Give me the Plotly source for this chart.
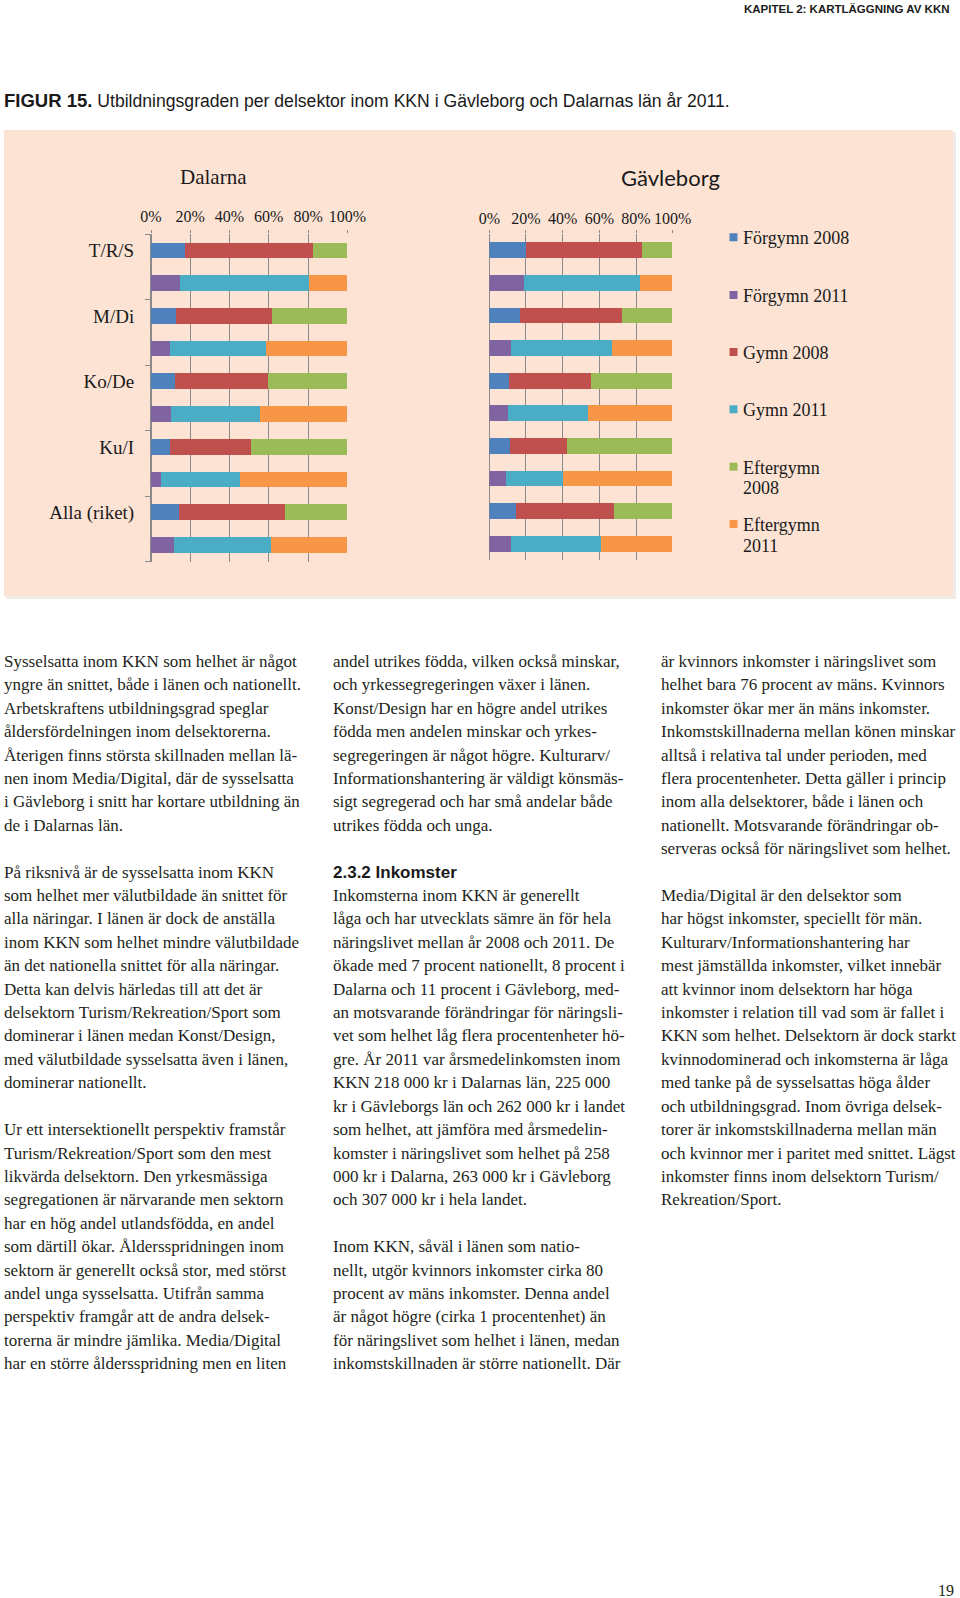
import plotly.graph_objects as go

W, H = 960, 1598

# ---------------- data ----------------
categories = ["T/R/S", "M/Di", "Ko/De", "Ku/I", "Alla (riket)"]
series_names = ["Förgymn 2008", "Förgymn 2011", "Gymn 2008", "Gymn 2011",
                "Eftergymn 2008", "Eftergymn 2011"]
series_colors = ["#4F81BD", "#8064A2", "#C0504D", "#4BACC6", "#9BBB59", "#F79646"]

dal_forgymn_2008 = [17.3, 12.6, 12.1, 9.7, 14.4]
dal_gymn_2008 = [65.4, 48.9, 47.5, 41.1, 53.9]
dal_eftergymn_2008 = [17.3, 38.5, 40.4, 49.2, 31.7]
dal_forgymn_2011 = [14.8, 9.8, 10.0, 5.3, 11.7]
dal_gymn_2011 = [65.9, 48.6, 45.7, 40.0, 49.4]
dal_eftergymn_2011 = [19.3, 41.6, 44.3, 54.7, 38.9]

gav_forgymn_2008 = [20.0, 17.1, 11.1, 11.3, 14.5]
gav_gymn_2008 = [63.6, 55.6, 44.4, 31.1, 53.9]
gav_eftergymn_2008 = [16.4, 27.3, 44.5, 57.6, 31.6]
gav_forgymn_2011 = [19.1, 12.0, 10.2, 9.1, 12.0]
gav_gymn_2011 = [63.1, 55.1, 43.6, 31.4, 49.1]
gav_eftergymn_2011 = [17.8, 32.9, 46.2, 59.5, 38.9]

x_ticks = [0, 20, 40, 60, 80, 100]
x_ticktext = [f"{v}%" for v in x_ticks]

# ---------------- helpers ----------------
def X(px):
    return px / W


def Y(py):
    return 1 - py / H


SERIF = "Liberation Serif, Times New Roman, serif"
SANS = "Liberation Sans, Arial, sans-serif"
TXT = "#231f20"

fig = go.Figure()

slots_2008 = [2 * i for i in range(len(categories))]
slots_2011 = [2 * i + 1 for i in range(len(categories))]

panels = [
    ("x", "y", [dal_forgymn_2008, dal_gymn_2008, dal_eftergymn_2008],
     [dal_forgymn_2011, dal_gymn_2011, dal_eftergymn_2011]),
    ("x2", "y2", [gav_forgymn_2008, gav_gymn_2008, gav_eftergymn_2008],
     [gav_forgymn_2011, gav_gymn_2011, gav_eftergymn_2011]),
]
for xa, ya, s2008, s2011 in panels:
    for k, vals in enumerate(s2008):
        idx = 2 * k
        fig.add_trace(go.Bar(x=vals, y=slots_2008, orientation="h", name=series_names[idx],
                             marker=dict(color=series_colors[idx], line=dict(width=0)),
                             width=0.48, xaxis=xa, yaxis=ya, showlegend=False))
    for k, vals in enumerate(s2011):
        idx = 2 * k + 1
        fig.add_trace(go.Bar(x=vals, y=slots_2011, orientation="h", name=series_names[idx],
                             marker=dict(color=series_colors[idx], line=dict(width=0)),
                             width=0.48, xaxis=xa, yaxis=ya, showlegend=False))

GRID = "#8a8a8a"
xaxis_common = dict(range=[0, 100], tickmode="array", tickvals=x_ticks, ticktext=x_ticktext,
                    side="top", automargin=False,
                    showgrid=True, gridcolor=GRID, gridwidth=1,
                    zeroline=True, zerolinecolor=GRID, zerolinewidth=1,
                    ticks="outside", ticklen=3, tickcolor=GRID,
                    tickfont=dict(family=SERIF, size=16, color="#1a1a1a"),
                    fixedrange=True)

n_slots = 2 * len(categories)
yaxis_common = dict(range=[n_slots - 0.5, -0.5], showgrid=False, zeroline=False,
                    automargin=False, fixedrange=True)

fig.update_layout(
    width=W, height=H, autosize=False, margin=dict(l=0, r=0, t=0, b=0, pad=0),
    paper_bgcolor="white", plot_bgcolor="rgba(0,0,0,0)",
    barmode="stack", bargap=0, showlegend=False,
    xaxis=dict(domain=[X(151), X(347.3)], anchor="y", ticklabelstandoff=2, **xaxis_common),
    yaxis=dict(domain=[Y(561.7), Y(234.3)], anchor="x",
               tickvals=slots_2008, ticktext=categories, ticks="",
               ticklabelstandoff=12,
               tickfont=dict(family=SERIF, size=19, color="#1a1a1a"),
               showline=True, linecolor=GRID, linewidth=1,
               minor=dict(tickvals=[i - 0.5 for i in range(0, n_slots + 1, 2)],
                          ticks="outside", ticklen=5, tickcolor=GRID, showgrid=False),
               **yaxis_common),
    xaxis2=dict(domain=[X(489.3), X(672.7)], anchor="y2", ticklabelstandoff=0, **xaxis_common),
    yaxis2=dict(domain=[Y(560), Y(234)], anchor="x2", showticklabels=False, ticks="",
                showline=False, **yaxis_common),
)

shapes = []
# panel shadow + panel
shapes.append(dict(type="rect", xref="paper", yref="paper", layer="below",
                   x0=X(6), x1=X(956), y0=Y(599), y1=Y(132),
                   fillcolor="#f1ebe7", line=dict(width=0)))
shapes.append(dict(type="rect", xref="paper", yref="paper", layer="below",
                   x0=X(4), x1=X(953), y0=Y(596), y1=Y(130),
                   fillcolor="#fde3d4", line=dict(width=0)))

annotations = []


def txt(x, y, text, size=17, family=SERIF, color=TXT, xanchor="left", yanchor="middle"):
    annotations.append(dict(x=X(x), y=Y(y), xref="paper", yref="paper", text=text,
                            showarrow=False, xanchor=xanchor, yanchor=yanchor,
                            borderpad=0, borderwidth=0,
                            font=dict(family=family, size=size, color=color)))


# header & caption
txt(950, 9, "<b>KAPITEL 2: KARTLÄGGNING AV KKN</b>", size=11.5,
    family="Liberation Sans Narrow, Liberation Sans, Arial, sans-serif",
    color="#1a1a1a", xanchor="right")
txt(4, 101, "<b><span style='font-size:18.5px'>FIGUR 15.</span></b>&nbsp;Utbildningsgraden per delsektor inom KKN i Gävleborg och Dalarnas län år 2011.",
    size=17.6, family=SANS, color="#1a1a1a")

# chart titles
txt(213, 177, "Dalarna", size=21, family=SERIF, color="#1a1a1a", xanchor="center")
txt(670.5, 177.5, "Gävleborg", size=22, family="Lato, Open Sans, sans-serif",
    color="#1a1a1a", xanchor="center")

# legend (manual, to match reference layout)
legend_rows = [
    ["Förgymn 2008"], ["Förgymn 2011"], ["Gymn 2008"], ["Gymn 2011"],
    ["Eftergymn", "2008"], ["Eftergymn", "2011"],
]
legend_y = [237.3, 295, 352, 409.3, 466.7, 524]
for name, color, lines, ly in zip(series_names, series_colors, legend_rows, legend_y):
    shapes.append(dict(type="rect", xref="paper", yref="paper",
                       x0=X(729.5), x1=X(737.5), y0=Y(ly + 4), y1=Y(ly - 4),
                       fillcolor=color, line=dict(width=0)))
    for j, line in enumerate(lines):
        txt(743, ly + 1 + j * 20.7, line, size=18, family=SERIF, color="#1a1a1a")

# body text
LH = 23.41
Y0 = 661.4
col_left = [
    "Sysselsatta inom KKN som helhet är något",
    "yngre än snittet, både i länen och nationellt.",
    "Arbetskraftens utbildningsgrad speglar",
    "åldersfördelningen inom delsektorerna.",
    "Återigen finns största skillnaden mellan lä-",
    "nen inom Media/Digital, där de sysselsatta",
    "i Gävleborg i snitt har kortare utbildning än",
    "de i Dalarnas län.",
    None,
    "På riksnivå är de sysselsatta inom KKN",
    "som helhet mer välutbildade än snittet för",
    "alla näringar. I länen är dock de anställa",
    "inom KKN som helhet mindre välutbildade",
    "än det nationella snittet för alla näringar.",
    "Detta kan delvis härledas till att det är",
    "delsektorn Turism/Rekreation/Sport som",
    "dominerar i länen medan Konst/Design,",
    "med välutbildade sysselsatta även i länen,",
    "dominerar nationellt.",
    None,
    "Ur ett intersektionellt perspektiv framstår",
    "Turism/Rekreation/Sport som den mest",
    "likvärda delsektorn. Den yrkesmässiga",
    "segregationen är närvarande men sektorn",
    "har en hög andel utlandsfödda, en andel",
    "som därtill ökar. Åldersspridningen inom",
    "sektorn är generellt också stor, med störst",
    "andel unga sysselsatta. Utifrån samma",
    "perspektiv framgår att de andra delsek-",
    "torerna är mindre jämlika. Media/Digital",
    "har en större åldersspridning men en liten",
]
col_mid = [
    "andel utrikes födda, vilken också minskar,",
    "och yrkessegregeringen växer i länen.",
    "Konst/Design har en högre andel utrikes",
    "födda men andelen minskar och yrkes-",
    "segregeringen är något högre. Kulturarv/",
    "Informationshantering är väldigt könsmäs-",
    "sigt segregerad och har små andelar både",
    "utrikes födda och unga.",
    None,
    "#2.3.2 Inkomster",
    "Inkomsterna inom KKN är generellt",
    "låga och har utvecklats sämre än för hela",
    "näringslivet mellan år 2008 och 2011. De",
    "ökade med 7 procent nationellt, 8 procent i",
    "Dalarna och 11 procent i Gävleborg, med-",
    "an motsvarande förändringar för näringsli-",
    "vet som helhet låg flera procentenheter hö-",
    "gre. År 2011 var årsmedelinkomsten inom",
    "KKN 218 000 kr i Dalarnas län, 225 000",
    "kr i Gävleborgs län och 262 000 kr i landet",
    "som helhet, att jämföra med årsmedelin-",
    "komster i näringslivet som helhet på 258",
    "000 kr i Dalarna, 263 000 kr i Gävleborg",
    "och 307 000 kr i hela landet.",
    None,
    "Inom KKN, såväl i länen som natio-",
    "nellt, utgör kvinnors inkomster cirka 80",
    "procent av mäns inkomster. Denna andel",
    "är något högre (cirka 1 procentenhet) än",
    "för näringslivet som helhet i länen, medan",
    "inkomstskillnaden är större nationellt. Där",
]
col_right = [
    "är kvinnors inkomster i näringslivet som",
    "helhet bara 76 procent av mäns. Kvinnors",
    "inkomster ökar mer än mäns inkomster.",
    "Inkomstskillnaderna mellan könen minskar",
    "alltså i relativa tal under perioden, med",
    "flera procentenheter. Detta gäller i princip",
    "inom alla delsektorer, både i länen och",
    "nationellt. Motsvarande förändringar ob-",
    "serveras också för näringslivet som helhet.",
    None,
    "Media/Digital är den delsektor som",
    "har högst inkomster, speciellt för män.",
    "Kulturarv/Informationshantering har",
    "mest jämställda inkomster, vilket innebär",
    "att kvinnor inom delsektorn har höga",
    "inkomster i relation till vad som är fallet i",
    "KKN som helhet. Delsektorn är dock starkt",
    "kvinnodominerad och inkomsterna är låga",
    "med tanke på de sysselsattas höga ålder",
    "och utbildningsgrad. Inom övriga delsek-",
    "torer är inkomstskillnaderna mellan män",
    "och kvinnor mer i paritet med snittet. Lägst",
    "inkomster finns inom delsektorn Turism/",
    "Rekreation/Sport.",
]
for cx, lines in [(4, col_left), (332.5, col_mid), (660.5, col_right)]:
    for i, line in enumerate(lines):
        if line is None:
            continue
        yy = Y0 + i * LH
        if line.startswith("#"):
            txt(cx, yy, "<b>" + line[1:] + "</b>", size=17, family=SANS, color="#1a1a1a")
        else:
            txt(cx, yy, line, size=17, family=SERIF, color=TXT)

# page number
txt(946, 1590, "19", size=16, family=SERIF, color=TXT, xanchor="center")

fig.update_layout(shapes=shapes, annotations=annotations)

fig.write_html(
    "out.html",
    config={"displayModeBar": False, "responsive": False},
    default_width="960px", default_height="1598px",
    post_script="document.body.style.margin='0';document.body.style.overflow='hidden';",
)
